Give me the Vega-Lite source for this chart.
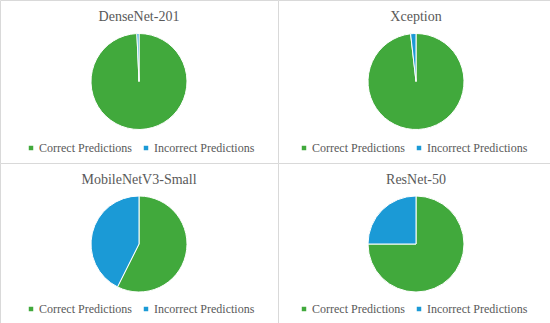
{
  "$schema": "https://vega.github.io/schema/vega-lite/v6.json",
  "padding": {"left": -1, "top": -1, "right": 0, "bottom": 0},
  "background": "white",
  "bounds": "flush",
  "data": {"values": [
    {"model": "DenseNet-201", "category": "Correct Predictions", "value": 99.3},
    {"model": "DenseNet-201", "category": "Incorrect Predictions", "value": 0.7},
    {"model": "Xception", "category": "Correct Predictions", "value": 98.2},
    {"model": "Xception", "category": "Incorrect Predictions", "value": 1.8},
    {"model": "MobileNetV3-Small", "category": "Correct Predictions", "value": 57.4},
    {"model": "MobileNetV3-Small", "category": "Incorrect Predictions", "value": 42.6},
    {"model": "ResNet-50", "category": "Correct Predictions", "value": 75},
    {"model": "ResNet-50", "category": "Incorrect Predictions", "value": 25}
  ]},
  "columns": 2,
  "spacing": 0,
  "concat": [
    {
      "title": {"text": "DenseNet-201"},
      "width": 278, "height": 163,
      "view": {"stroke": "#d9d9d9", "fill": "white"},
      "transform": [{"filter": "datum.model === 'DenseNet-201'"}],
      "mark": {"type": "arc", "outerRadius": 48, "stroke": "white", "strokeWidth": 1},
      "encoding": {
        "theta": {"field": "value", "type": "quantitative", "stack": true},
        "color": {"field": "category", "type": "nominal", "scale": {"domain": ["Correct Predictions", "Incorrect Predictions"], "range": ["#41a93c", "#1b9ad6"]}, "legend": {"orient": "none", "legendX": 25, "legendY": 142, "direction": "horizontal", "title": null, "labelFont": "Liberation Serif", "labelFontSize": 12, "labelColor": "#595959", "symbolType": "square", "symbolSize": 20, "symbolStrokeWidth": 0, "columnPadding": 8, "labelOffset": 2}},
        "order": {"field": "category", "type": "nominal"}
      }
    },
    {
      "title": {"text": "Xception"},
      "width": 276, "height": 163,
      "view": {"stroke": "#d9d9d9", "fill": "white"},
      "transform": [{"filter": "datum.model === 'Xception'"}],
      "mark": {"type": "arc", "outerRadius": 48, "stroke": "white", "strokeWidth": 1},
      "encoding": {
        "theta": {"field": "value", "type": "quantitative", "stack": true},
        "color": {"field": "category", "type": "nominal", "scale": {"domain": ["Correct Predictions", "Incorrect Predictions"], "range": ["#41a93c", "#1b9ad6"]}, "legend": {"orient": "none", "legendX": 20, "legendY": 142, "direction": "horizontal", "title": null, "labelFont": "Liberation Serif", "labelFontSize": 12, "labelColor": "#595959", "symbolType": "square", "symbolSize": 20, "symbolStrokeWidth": 0, "columnPadding": 8, "labelOffset": 2}},
        "order": {"field": "category", "type": "nominal"}
      }
    },
    {
      "title": {"text": "MobileNetV3-Small"},
      "width": 278, "height": 162,
      "view": {"stroke": "#d9d9d9", "fill": "white"},
      "transform": [{"filter": "datum.model === 'MobileNetV3-Small'"}],
      "mark": {"type": "arc", "outerRadius": 48, "stroke": "white", "strokeWidth": 1},
      "encoding": {
        "theta": {"field": "value", "type": "quantitative", "stack": true},
        "color": {"field": "category", "type": "nominal", "scale": {"domain": ["Correct Predictions", "Incorrect Predictions"], "range": ["#41a93c", "#1b9ad6"]}, "legend": {"orient": "none", "legendX": 25, "legendY": 140, "direction": "horizontal", "title": null, "labelFont": "Liberation Serif", "labelFontSize": 12, "labelColor": "#595959", "symbolType": "square", "symbolSize": 20, "symbolStrokeWidth": 0, "columnPadding": 8, "labelOffset": 2}},
        "order": {"field": "category", "type": "nominal"}
      }
    },
    {
      "title": {"text": "ResNet-50"},
      "width": 276, "height": 162,
      "view": {"stroke": "#d9d9d9", "fill": "white"},
      "transform": [{"filter": "datum.model === 'ResNet-50'"}],
      "mark": {"type": "arc", "outerRadius": 48, "stroke": "white", "strokeWidth": 1},
      "encoding": {
        "theta": {"field": "value", "type": "quantitative", "stack": true},
        "color": {"field": "category", "type": "nominal", "scale": {"domain": ["Correct Predictions", "Incorrect Predictions"], "range": ["#41a93c", "#1b9ad6"]}, "legend": {"orient": "none", "legendX": 20, "legendY": 140, "direction": "horizontal", "title": null, "labelFont": "Liberation Serif", "labelFontSize": 12, "labelColor": "#595959", "symbolType": "square", "symbolSize": 20, "symbolStrokeWidth": 0, "columnPadding": 8, "labelOffset": 2}},
        "order": {"field": "category", "type": "nominal"}
      }
    }
  ],
  "resolve": {"legend": {"color": "independent"}},
  "config": {
    "font": "Liberation Serif",
    "view": {"stroke": "#d9d9d9", "strokeWidth": 1},
    "title": {"font": "Liberation Serif", "fontSize": 14, "fontWeight": "normal", "color": "#595959", "offset": -24, "anchor": "middle", "frame": "group"}
  }
}
